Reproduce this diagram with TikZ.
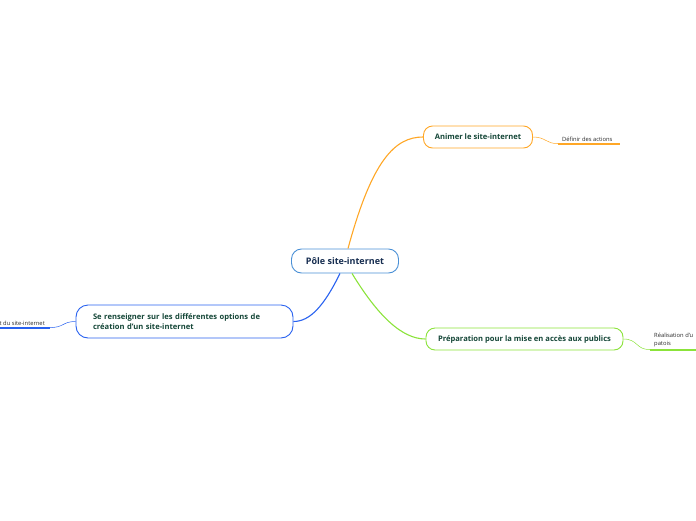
\documentclass[tikz,border=0pt]{standalone}
\usepackage{fontspec}
\setmainfont{Open Sans}
\usepackage{tikz}
\usetikzlibrary{positioning,calc}
\definecolor{rootblue}{RGB}{74,144,214}
\definecolor{branchblue}{RGB}{41,98,240}
\definecolor{branchorange}{RGB}{255,167,38}
\definecolor{branchgreen}{RGB}{139,227,58}
\definecolor{textnavy}{RGB}{22,45,80}
\definecolor{textgreen}{RGB}{20,70,55}
\definecolor{leafgray}{RGB}{40,40,40}

\begin{document}
\begin{tikzpicture}[
    x=1pt, y=-1pt,
    every node/.style={font=\fontsize{8}{10}\selectfont},
    rootbox/.style={rectangle, draw=rootblue, fill=white, line width=0.9pt, rounded corners=10pt, minimum width=107pt, minimum height=24pt, text=textnavy, font=\fontsize{9}{10}\selectfont\bfseries},
    branchbox/.style={rectangle, draw=#1, fill=white, line width=0.9pt, rounded corners=9pt, minimum height=22pt, text=textgreen, font=\fontsize{7.6}{10.5}\selectfont\bfseries},
    leaf/.style={inner xsep=4pt, inner ysep=2pt, text=leafgray, align=left, font=\fontsize{5.8}{8.5}\selectfont},
    link/.style={draw=#1, line width=1.1pt},
    twig/.style={draw=#1, line width=0.5pt},
    mark line/.style={draw=#1, line width=1.6pt}
]
    \useasboundingbox (0,0) rectangle (696,520);

    \node (root) [rootbox] at (345,261) {Pôle site-internet};

    \node (anim) [branchbox=branchorange, minimum width=109pt] at (478,137) {Animer le site-internet};
    \node (prep) [branchbox=branchgreen, minimum width=197pt] at (524.5,339) {Préparation pour la mise en accès aux publics};
    \node (rens) [branchbox=branchblue, minimum width=217pt, minimum height=33pt, rounded corners=12pt, text width=183pt, align=left, inner xsep=17pt] at (184.5,321.5) {Se renseigner sur les différentes options de\\création d'un site-internet};

    % feuilles
    \node (defi) [leaf, anchor=south west] at (558,143.5) {Définir des actions};
    \node (real) [leaf, anchor=south west] at (650,349.5) {Réalisation d'u\\patois};
    \node (tour) [leaf, anchor=south east] at (49,327.5) {t du site-internet};

    \draw[mark line=branchorange] (558,144) -- (620,144);
    \draw[mark line=branchgreen] (650,350) -- (696,350);
    \draw[mark line=branchblue] (0,328) -- (50,328);

    % branches
    \draw[link=branchorange] ($(root.north)+(3,0)$) .. controls (372,160) and (395,137) .. (anim.west);
    \draw[link=branchblue] ($(root.south)+(-5,0)$) .. controls (324,306) and (310,321.5) .. (rens.east);
    \draw[link=branchgreen] ($(root.south)+(7,0)$) .. controls (378,316) and (402,339) .. (prep.west);

    \draw[twig=branchorange] (anim.east) .. controls (546,137) and (546,144) .. (defi.south west);
    \draw[twig=branchgreen] (prep.east) .. controls (638,339) and (636,350) .. (real.south west);
    \draw[twig=branchblue] (rens.west) .. controls (62,321.5) and (64,328) .. (tour.south east);
\end{tikzpicture}
\end{document}
